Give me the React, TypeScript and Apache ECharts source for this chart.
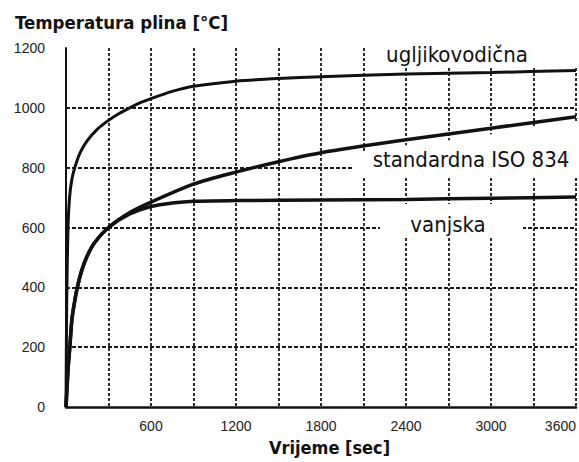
import React, { useEffect, useRef } from "react";
import * as echarts from "echarts";

// time [s] and gas temperature [°C]
const tUglj = [0, 5, 14, 25, 41, 62, 100, 150, 220, 300, 375, 450, 525, 600, 750, 900, 1200, 1500, 1800, 2400, 3000, 3600];
const tempUglj = [0, 350, 600, 700, 760, 800, 850, 890, 928, 958, 981, 1000, 1017, 1031, 1055, 1072, 1089, 1098, 1104, 1113, 1118, 1125];

const tStd = [0, 15, 27, 41, 60, 80, 110, 145, 200, 300, 450, 600, 900, 1200, 1500, 1800, 2400, 3000, 3600];
const tempStd = [0, 130, 200, 290, 350, 400, 455, 500, 548, 600, 650, 685, 745, 785, 820, 850, 893, 932, 970];

const tVanj = [0, 15, 27, 41, 60, 80, 110, 145, 200, 300, 450, 600, 750, 900, 1200, 1800, 2400, 3000, 3600];
const tempVanj = [0, 130, 200, 290, 350, 400, 455, 500, 548, 600, 645, 670, 682, 688, 690, 692, 694, 698, 702];

const xLabelValues = [600, 1200, 1800, 2400, 3000, 3600];
const seriesNames = ["ugljikovodična", "standardna ISO 834", "vanjska"];

const FONT = '"DejaVu Sans Condensed", "DejaVu Sans", "Liberation Sans", Arial, sans-serif';
const NUMFONT = '"Liberation Sans", Arial, sans-serif';

const pairs = (xs: number[], ys: number[]) => xs.map((x, i) => [x, ys[i]]);

export default function App() {
  const ref = useRef<HTMLDivElement>(null);
  useEffect(() => {
    if (!ref.current) return;
    const chart = echarts.init(ref.current, null, { renderer: "svg" });
    const lineSeries = (name: string, data: number[][], w: number) => ({
      name,
      type: "line",
      data,
      symbol: "none",
      smooth: 0.25,
      z: 3,
      lineStyle: { color: "#111", width: w },
    });
    chart.setOption({
      animation: false,
      backgroundColor: "#fff",
      title: {
        text: "Temperatura plina [°C]",
        left: 15,
        top: 13,
        padding: 0,
        textStyle: { fontFamily: FONT, fontWeight: "bold", fontSize: 18.5, color: "#111" },
      },
      grid: { left: 66, right: -12, top: 48, bottom: 55 },
      xAxis: {
        type: "value",
        min: 0,
        max: 3600,
        interval: 300,
        name: "Vrijeme [sec]",
        nameLocation: "middle",
        nameGap: 31,
        nameTextStyle: {
          fontFamily: FONT,
          fontWeight: "bold",
          fontSize: 18,
          color: "#111",
          padding: [0, 0, 0, 17],
        },
        axisLine: { show: true, lineStyle: { color: "#111", width: 2.5 } },
        axisTick: { show: false },
        axisLabel: {
          margin: 12,
          fontFamily: NUMFONT,
          fontSize: 14,
          color: "#222",
          alignMaxLabel: "right",
          formatter: (v: number) => (xLabelValues.includes(v) ? String(v) : ""),
        },
        splitLine: {
          show: true,
          showMinLine: false,
          lineStyle: { color: "#1a1a1a", width: 1.8, type: [3, 2] },
        },
      },
      yAxis: {
        type: "value",
        min: 0,
        max: 1200,
        interval: 200,
        axisLine: { show: true, lineStyle: { color: "#111", width: 2 } },
        axisTick: { show: false },
        axisLabel: {
          margin: 21,
          fontFamily: NUMFONT,
          fontSize: 14,
          color: "#222",
          formatter: (v: number) => String(v),
        },
        splitLine: {
          show: true,
          showMinLine: false,
          showMaxLine: false,
          lineStyle: { color: "#1a1a1a", width: 1.8, type: [4, 2] },
        },
      },
      graphic: [
        { type: "rect", z: 1, shape: { x: 366, y: 30, width: 230, height: 37 }, style: { fill: "#fff" } },
        {
          type: "polygon",
          z: 1,
          shape: { points: [[352, 153], [400, 146], [460, 139], [520, 130], [590, 120], [590, 178], [352, 178]] },
          style: { fill: "#fff" },
        },
        { type: "rect", z: 1, shape: { x: 380, y: 204, width: 143, height: 33 }, style: { fill: "#fff" } },
        {
          type: "text", z: 10, x: 457, y: 54,
          style: { text: seriesNames[0], font: `22px ${FONT}`, fill: "#111", align: "center", verticalAlign: "middle" },
        },
        {
          type: "text", z: 10, x: 471, y: 159,
          style: { text: seriesNames[1], font: `22px ${FONT}`, fill: "#111", align: "center", verticalAlign: "middle" },
        },
        {
          type: "text", z: 10, x: 448, y: 224,
          style: { text: seriesNames[2], font: `22px ${FONT}`, fill: "#111", align: "center", verticalAlign: "middle" },
        },
      ],
      series: [
        lineSeries(seriesNames[0], pairs(tUglj, tempUglj), 3),
        lineSeries(seriesNames[1], pairs(tStd, tempStd), 3.5),
        lineSeries(seriesNames[2], pairs(tVanj, tempVanj), 3.5),
      ],
    });
    return () => chart.dispose();
  }, []);
  return (
    <div
      ref={ref}
      style={{ position: "fixed", left: 0, top: 0, width: 579, height: 462 }}
    />
  );
}
